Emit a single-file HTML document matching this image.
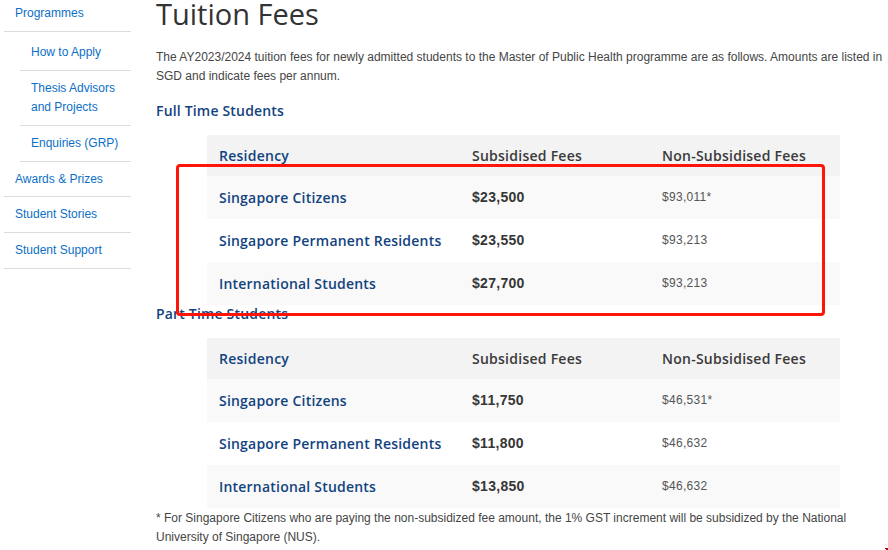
<!DOCTYPE html>
<html>
<head>
<meta charset="utf-8">
<style>
html,body{margin:0;padding:0;}
body{width:888px;height:550px;overflow:hidden;background:#fff;position:relative;font-family:"Liberation Sans",Arial,sans-serif;font-size:12px;color:#333;}
.side{position:absolute;left:0;top:0;width:131px;margin:0;padding:0;list-style:none;}
.side li{position:absolute;border-bottom:1px solid #dddddd;}
.side li.l1{left:4px;width:127px;}
.side li.l2{left:20px;width:111px;}
.side a{position:absolute;left:11px;color:#0b6fc6;text-decoration:none;line-height:18px;white-space:nowrap;}
.main{position:absolute;left:156px;top:0;width:732px;}
h1{position:absolute;left:0;margin:0;font-family:"Open Sans","Liberation Sans",sans-serif;font-weight:400;font-size:29px;line-height:40px;color:#333;white-space:nowrap;}
p{position:absolute;left:0;margin:0;line-height:19px;width:730px;color:#454545;}
h3{position:absolute;left:0;margin:0;font-family:"Open Sans","Liberation Sans",sans-serif;font-weight:600;font-size:14px;line-height:20px;color:#12437f;letter-spacing:0.18px;white-space:nowrap;}
table{position:absolute;left:51px;width:633px;border-collapse:collapse;border-spacing:0;}
th,td{padding:0 0 0 12px;text-align:left;vertical-align:middle;}
th{height:41px;box-sizing:border-box;background:#f3f3f3;font-family:"Open Sans","Liberation Sans",sans-serif;font-weight:600;font-size:14px;color:#3a3a3a;letter-spacing:0.25px;}
th.c1,td.c1{width:253px;}
th.c2,td.c2{width:190px;}
th.c1{color:#12437f;}
td{height:43px;box-sizing:border-box;}
tr.odd td{background:#f9f9f9;}
td.c1{font-family:"Open Sans","Liberation Sans",sans-serif;font-weight:600;font-size:14px;color:#12437f;letter-spacing:0.21px;}
td.c2{font-weight:700;font-size:14px;color:#363636;letter-spacing:0.3px;padding-bottom:2px;}
td.c3{font-size:12px;color:#555;letter-spacing:0.3px;padding-bottom:2px;}
.box{position:absolute;left:176px;top:164px;width:643px;height:146px;border:3px solid #ff140a;border-radius:4px;}
.mark{position:absolute;left:885px;top:548px;width:3px;height:2px;background:#c40000;clip-path:polygon(0 0,100% 0,100% 100%,33% 100%,33% 50%,0 50%);}
</style>
</head>
<body>
<ul class="side">
  <li class="l1" style="top:0;height:31px"><a href="#" style="top:4px">Programmes</a></li>
  <li class="l2" style="top:32px;height:38px"><a href="#" style="top:11px">How to Apply</a></li>
  <li class="l2" style="top:71px;height:54px"><a href="#" style="top:8px;line-height:19px">Thesis Advisors<br>and Projects</a></li>
  <li class="l2" style="top:126px;height:35px"><a href="#" style="top:8px">Enquiries (GRP)</a></li>
  <li class="l1" style="top:162px;height:34px"><a href="#" style="top:8px">Awards &amp; Prizes</a></li>
  <li class="l1" style="top:197px;height:35px"><a href="#" style="top:8px">Student Stories</a></li>
  <li class="l1" style="top:233px;height:35px"><a href="#" style="top:8px">Student Support</a></li>
</ul>

<div class="main">
  <h1 style="top:-6px">Tuition Fees</h1>
  <p style="top:48px">The AY2023/2024 tuition fees for newly admitted students to the Master of Public Health programme are as follows. Amounts are listed in SGD and indicate fees per annum.</p>
  <h3 style="top:101px">Full Time Students</h3>
  <table style="top:135px">
    <tr><th class="c1">Residency</th><th class="c2">Subsidised Fees</th><th class="c3">Non-Subsidised Fees</th></tr>
    <tr class="odd"><td class="c1">Singapore Citizens</td><td class="c2">$23,500</td><td class="c3">$93,011*</td></tr>
    <tr><td class="c1">Singapore Permanent Residents</td><td class="c2">$23,550</td><td class="c3">$93,213</td></tr>
    <tr class="odd"><td class="c1">International Students</td><td class="c2">$27,700</td><td class="c3">$93,213</td></tr>
  </table>
  <h3 style="top:304px">Part Time Students</h3>
  <table style="top:338px">
    <tr><th class="c1">Residency</th><th class="c2">Subsidised Fees</th><th class="c3">Non-Subsidised Fees</th></tr>
    <tr class="odd"><td class="c1">Singapore Citizens</td><td class="c2">$11,750</td><td class="c3">$46,531*</td></tr>
    <tr><td class="c1">Singapore Permanent Residents</td><td class="c2">$11,800</td><td class="c3">$46,632</td></tr>
    <tr class="odd"><td class="c1">International Students</td><td class="c2">$13,850</td><td class="c3">$46,632</td></tr>
  </table>
  <p style="top:509px">* For Singapore Citizens who are paying the non-subsidized fee amount, the 1% GST increment will be subsidized by the National University of Singapore (NUS).</p>
</div>
<div class="box"></div>
<div class="mark"></div>
</body>
</html>
